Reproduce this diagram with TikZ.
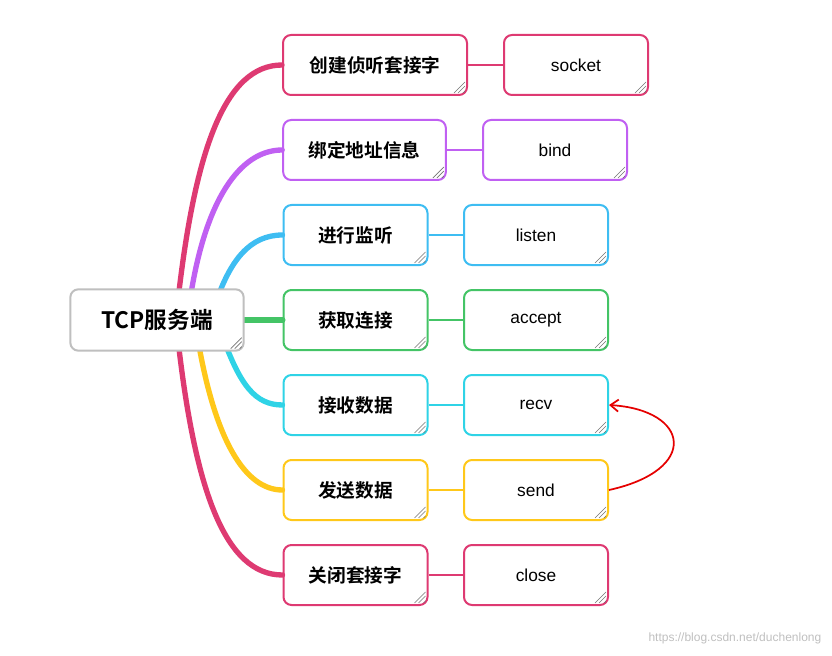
\documentclass[tikz,border=0pt]{standalone}
\usepackage{fontspec}
\setmainfont{Liberation Sans}
\newfontfamily\cjk{Noto Sans CJK SC}[BoldFont={Noto Sans CJK SC Bold}]
\usetikzlibrary{calc,arrows.meta}
\definecolor{cA}{HTML}{DE3A72}
\definecolor{cB}{HTML}{C060F2}
\definecolor{cC}{HTML}{3EBDF2}
\definecolor{cD}{HTML}{44C466}
\definecolor{cE}{HTML}{2FD3E6}
\definecolor{cF}{HTML}{FFC81A}
\tikzset{
 box/.style={draw=#1,line width=1.5pt,rounded corners=6pt,fill=white,minimum height=45pt,inner sep=0pt},
 lone/.style={box=#1,font=\cjk\bfseries\fontsize{14}{16}\selectfont},
 ltwo/.style={box=#1,font=\fontsize{13}{15}\selectfont},
 br/.style={draw=#1,line width=4pt,line cap=round},
 ln/.style={draw=#1,line width=1.5pt},
}
\begin{document}
\begin{tikzpicture}[x=0.75pt,y=-0.75pt]
\useasboundingbox (0,0) rectangle (832,656);
\node[lone=cA,minimum width=138pt] (n1) at (375,65) {创建侦听套接字};
\node[lone=cB,minimum width=122pt] (n2) at (364.5,150) {绑定地址信息};
\node[lone=cC,minimum width=108pt] (n3) at (355.5,235) {进行监听};
\node[lone=cD,minimum width=108pt] (n4) at (355.5,320) {获取连接};
\node[lone=cE,minimum width=108pt] (n5) at (355.5,405) {接收数据};
\node[lone=cF,minimum width=108pt] (n6) at (355.5,490) {发送数据};
\node[lone=cA,minimum width=108pt] (n7) at (355.5,575) {关闭套接字};
\node[ltwo=cA,minimum width=108pt] (m1) at (576,65) {socket};
\node[ltwo=cB,minimum width=108pt] (m2) at (555,150) {bind};
\node[ltwo=cC,minimum width=108pt] (m3) at (536,235) {listen};
\node[ltwo=cD,minimum width=108pt] (m4) at (536,320) {accept};
\node[ltwo=cE,minimum width=108pt] (m5) at (536,405) {recv};
\node[ltwo=cF,minimum width=108pt] (m6) at (536,490) {send};
\node[ltwo=cA,minimum width=108pt] (m7) at (536,575) {close};
\coordinate (s1) at (178,300); \coordinate (s2) at (190,300);
\coordinate (s3) at (215,305); \coordinate (s4) at (240,320);
\coordinate (s5) at (222,335); \coordinate (s6) at (198,340);
\coordinate (s7) at (178,340);
\draw[br=cA] (s1) .. controls (195,150) and (225,65) .. (n1.west);
\draw[br=cB] (s2) .. controls (205,200) and (240,150) .. (n2.west);
\draw[br=cC] (s3) .. controls (230,260) and (250,235) .. (n3.west);
\draw[br=cD,line width=4.5pt] (s4) -- (n4.west);
\draw[br=cE] (s5) .. controls (240,385) and (255,405) .. (n5.west);
\draw[br=cF] (s6) .. controls (215,440) and (245,490) .. (n6.west);
\draw[br=cA] (s7) .. controls (195,490) and (225,575) .. (n7.west);
\foreach \i/\c in {1/cA,2/cB,3/cC,4/cD,5/cE,6/cF,7/cA}
  \draw[ln=\c] (n\i.east) -- (m\i.west);
\node[box=black!25,minimum width=130pt,minimum height=46pt,font=\cjk\bfseries\fontsize{17}{19}\selectfont] (root) at (157,320) {TCP服务端};
\foreach \n in {root,n1,n2,n3,n4,n5,n6,n7,m1,m2,m3,m4,m5,m6,m7}{
  \draw[black!55,line width=0.5pt] ($(\n.south east)+(-5,-3)$) -- ($(\n.south east)+(-3,-5)$)
    ($(\n.south east)+(-10,-3)$) -- ($(\n.south east)+(-3,-10)$)
    ($(\n.south east)+(-14,-3)$) -- ($(\n.south east)+(-3,-14)$);
}
\draw[red!90!black,line width=1.3pt,-{Straight Barb[length=6pt,width=9pt]}] (m6.east) .. controls (700,470) and (690,410) .. (m5.east);
\node[text=black!25,font=\fontsize{9}{10}\selectfont,anchor=east] (wm) at (826,638) {https://blog.csdn.net/duchenlong};
\end{tikzpicture}
\end{document}
